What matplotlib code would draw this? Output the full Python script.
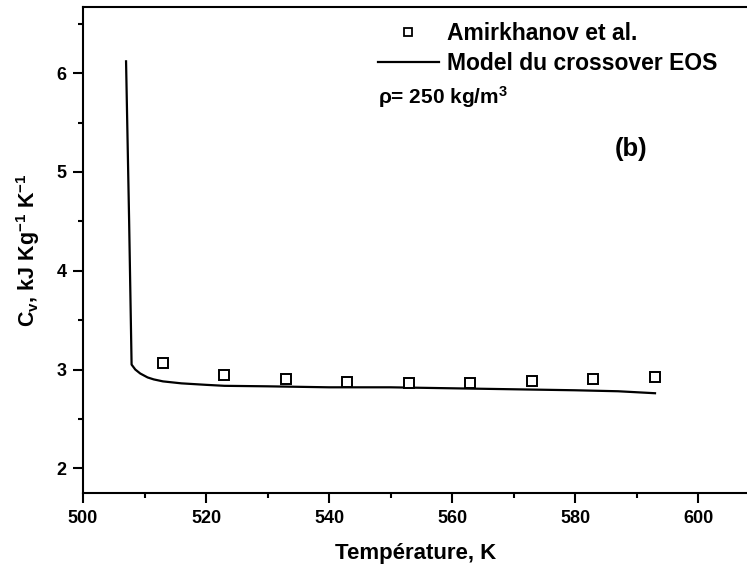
import matplotlib
matplotlib.use("Agg")
import matplotlib.pyplot as plt
from matplotlib.lines import Line2D
from matplotlib.ticker import MultipleLocator

plt.rcParams['font.family'] = ['Liberation Sans', 'DejaVu Sans']
plt.rcParams['font.weight'] = 'bold'
plt.rcParams['mathtext.fontset'] = 'custom'
plt.rcParams['mathtext.rm'] = 'Liberation Sans:bold'
plt.rcParams['mathtext.it'] = 'Liberation Sans:bold'
plt.rcParams['mathtext.bf'] = 'Liberation Sans:bold'

# experimental data (Amirkhanov et al.)
T_exp = [513, 523, 533, 543, 553, 563, 573, 583, 593]
cv_exp = [3.07, 2.945, 2.90, 2.87, 2.86, 2.86, 2.88, 2.90, 2.92]

# crossover EOS model
T_model = [507.0, 507.5, 507.9, 508.5, 509.3, 510.5, 511.5, 513, 516, 520,
           523, 530, 540, 550, 560, 570, 580, 587, 593]
cv_model = [6.12, 4.50, 3.05, 3.00, 2.96, 2.92, 2.90, 2.88, 2.86, 2.845,
            2.835, 2.83, 2.82, 2.82, 2.81, 2.80, 2.79, 2.78, 2.76]

fig = plt.figure(figsize=(7.47, 5.72), dpi=100)
ax = fig.add_axes([83/747, 1-493/572, 1-83/747+0.002, (493-7)/572])

ax.plot(T_model, cv_model, color='k', lw=1.6)
ax.plot(T_exp, cv_exp, ls='none', marker='s', ms=6.6, mfc='white', mec='k', mew=1.4)

ax.set_xlim(500, 608.2)
ax.set_ylim(1.75, 6.67)
ax.xaxis.set_major_locator(MultipleLocator(20))
ax.xaxis.set_minor_locator(MultipleLocator(10))
ax.yaxis.set_major_locator(MultipleLocator(1))
ax.yaxis.set_minor_locator(MultipleLocator(0.5))
ax.tick_params(which='both', direction='out', width=1.5, labelsize=13, top=False, right=False)
ax.tick_params(which='major', length=7, pad=5)
ax.tick_params(which='minor', length=3.6)
for s in ['left', 'bottom', 'top']:
    ax.spines[s].set_linewidth(1.5)
ax.spines['right'].set_visible(False)

ax.set_xlabel('Température, K', fontsize=16, fontweight='bold', labelpad=12)
ax.set_ylabel('C$_v$, kJ Kg$^{-1}$ K$^{-1}$', fontsize=15.5, fontweight='bold', labelpad=10)

handles = [Line2D([], [], ls='none', marker='s', ms=5.5, mfc='white', mec='k', mew=1.3),
           Line2D([], [], color='k', lw=1.6)]
ax.legend(handles, ['Amirkhanov et al.', 'Model du crossover EOS'],
          loc='upper left', bbox_to_anchor=(378/747, 1-22/572),
          bbox_transform=fig.transFigure, frameon=False, fontsize=16.5,
          handlelength=2.66, handletextpad=0.35, labelspacing=0.3, borderpad=0, borderaxespad=0)

fig.text(378/747, 1-97/572, 'ρ= 250 kg/m$^3$', fontsize=15, fontweight='bold', va='center', ha='left')
fig.text(631/747, 1-149/572, '(b)', fontsize=18.5, fontweight='bold', va='center', ha='center')

fig.savefig('out.png', dpi=100)
